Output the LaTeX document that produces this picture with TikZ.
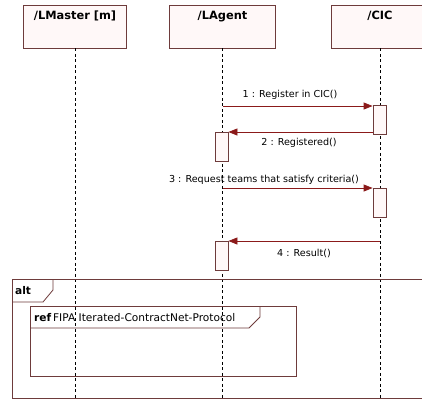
\documentclass[tikz,border=0pt]{standalone}
\usepackage{fontspec}
\setmainfont{DejaVu Sans}
\usetikzlibrary{arrows.meta}
\definecolor{edge}{HTML}{6E3B3B}
\definecolor{msg}{HTML}{8B1A1A}
\definecolor{paper}{HTML}{FFF8F8}
\begin{document}
\begin{tikzpicture}[x=1pt,y=-1pt,
  lifebox/.style={draw=edge, fill=paper, line width=0.8pt, minimum height=43pt, inner sep=0pt},
  boxtitle/.style={anchor=north, inner sep=0pt, yshift=-6pt, font=\fontsize{11.4}{13}\selectfont\bfseries},
  lifeline/.style={draw=black, line width=0.8pt, dash pattern=on 3pt off 2.5pt},
  act/.style={draw=edge, fill=paper, line width=0.8pt, minimum width=13pt, minimum height=29pt, inner sep=0pt, anchor=north},
  msgline/.style={draw=msg, line width=0.8pt, -{Triangle[length=9pt,width=7pt]}},
  msglabel/.style={inner sep=0pt, font=\fontsize{9.6}{11}\selectfont},
  frame/.style={draw=edge, line width=0.8pt},
  tagtext/.style={inner sep=0pt, anchor=west, font=\fontsize{10.6}{12}\selectfont}
]
\clip (0,0) rectangle (422,400);
\fill[white] (0,0) rectangle (422,400);

% lifeline heads
\node[lifebox, minimum width=103pt, label={[boxtitle]north:/LMaster [m]}] (lm) at (75,26.5) {};
\node[lifebox, minimum width=106pt, label={[boxtitle]north:/LAgent}] (ag) at (222.5,26.5) {};
\node[lifebox, minimum width=98pt, label={[boxtitle]north:/CIC}] (cic) at (380,26.5) {};

% lifeline ends
\coordinate (lmEnd) at (75,400);
\coordinate (agEnd) at (222.5,400);
\coordinate (cicEnd) at (380,400);

\draw[lifeline] (lm.south) -- (lmEnd);
\draw[lifeline] (ag.south) -- (agEnd);
\draw[lifeline] (cic.south) -- (cicEnd);

% activation bars
\node[act] (c1) at (379.5,105) {};
\node[act] (a1) at (221.5,132) {};
\node[act] (c2) at (379.5,188) {};
\node[act] (a2) at (221.5,241) {};

% message start points on the lifelines
\coordinate (s1) at (222.5,106);
\coordinate (s3) at (222.5,188);
\coordinate (s4) at (380,241);

\draw[msgline] (s1) -- (c1.west |- s1);
\draw[msgline] (c1.west |- a1.north) -- (a1.north east);
\draw[msgline] (s3) -- (c2.north west);
\draw[msgline] (s4) -- (a2.north east);

\node[msglabel] (l1) at (290,95) {1 : Register in CIC()};
\node[msglabel] (l2) at (299,143) {2 : Registered()};
\node[msglabel] (l3) at (264,180) {3 : Request teams that satisfy criteria()};
\node[msglabel] (l4) at (304,253) {4 : Result()};

% alt combined fragment
\draw[frame] (425,279) -- (12,279) -- (12,398) -- (425,398);
\draw[frame] (12,302) -- (43,302) -- (53,290) -- (53,279);
\node[tagtext, font=\fontsize{10.6}{12}\selectfont\bfseries] (alt) at (15,291) {alt};

% ref interaction use
\draw[frame] (30,306) rectangle (296,376);
\draw[frame] (30,328) -- (249,328) -- (260,317) -- (260,306);
\node[tagtext] (ref) at (34,318) {\textbf{ref}\,FIPA Iterated-ContractNet-Protocol};
\end{tikzpicture}
\end{document}
